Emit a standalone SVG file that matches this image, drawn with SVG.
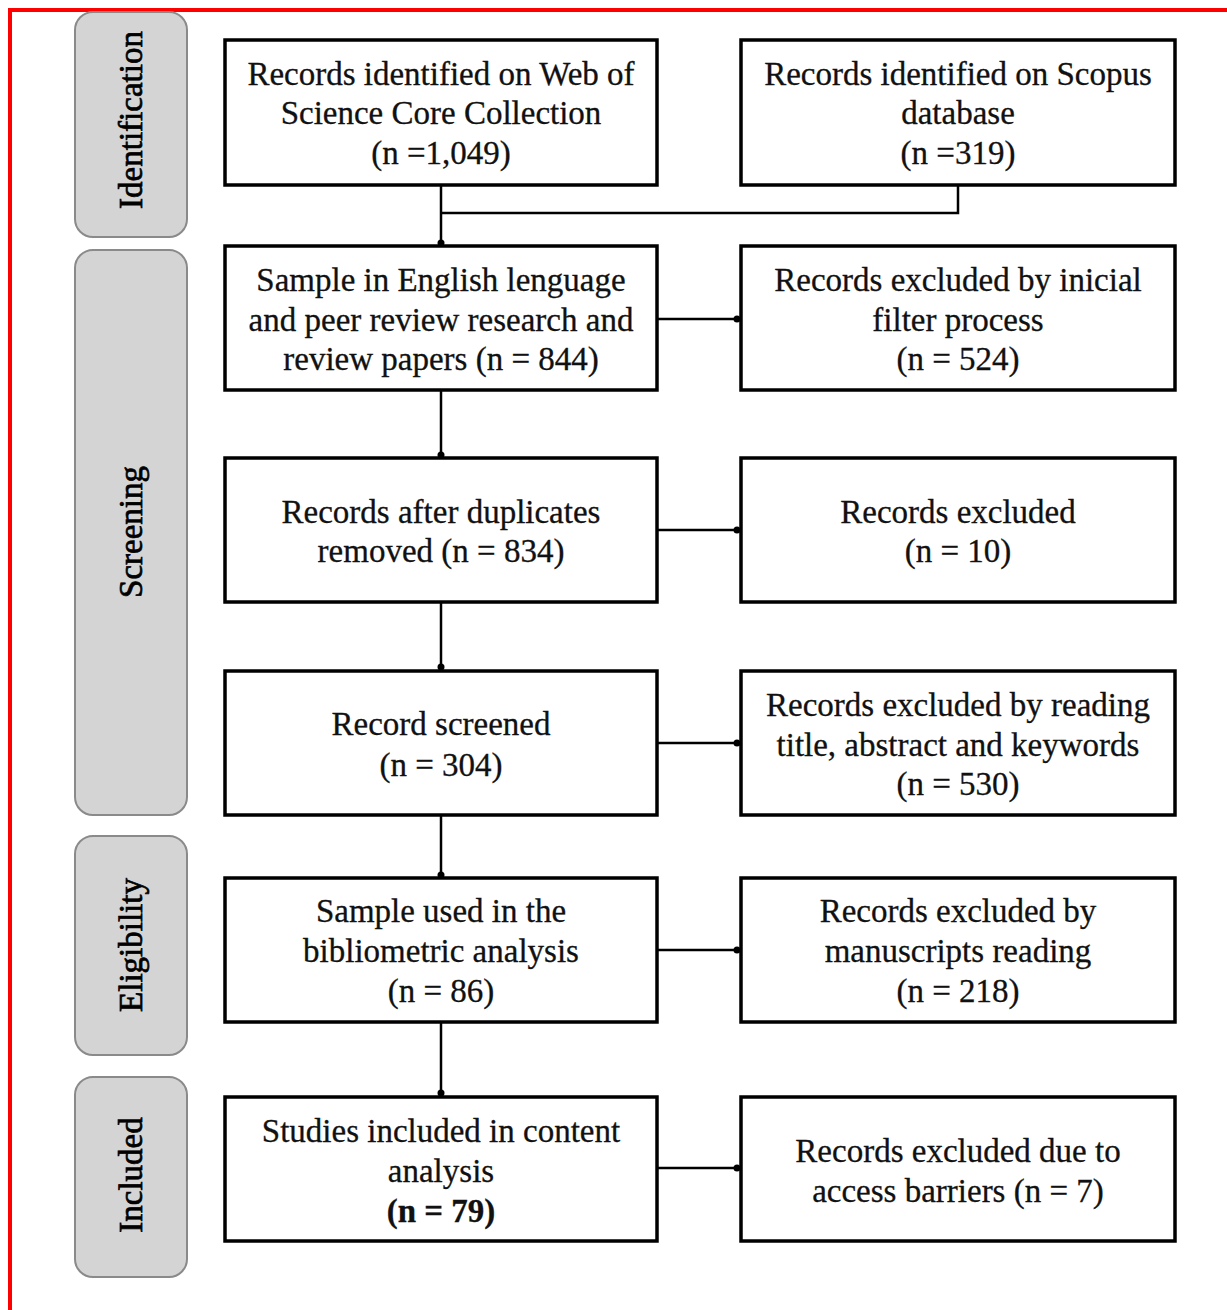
<svg xmlns="http://www.w3.org/2000/svg" width="1227" height="1310" viewBox="0 0 1227 1310">
<style>
.box{fill:#fff;stroke:#000;stroke-width:3.5}
.side{fill:#d4d4d4;stroke:#8a8a8a;stroke-width:2}
.t{font-family:"Liberation Serif","Times New Roman",serif;font-size:33px;fill:#111;stroke:#111;stroke-width:0.3;text-anchor:middle}
.st{font-family:"Liberation Serif","Times New Roman",serif;font-size:33px;fill:#000;stroke:#000;stroke-width:0.7;text-anchor:middle}
.c{fill:none;stroke:#000;stroke-width:2.5}
</style>
<defs>
<marker id="dot" markerWidth="10" markerHeight="10" refX="5" refY="5" markerUnits="userSpaceOnUse">
<circle cx="5" cy="5" r="3.5" fill="#000"/>
</marker>
</defs>
<rect width="1227" height="1310" fill="#fff"/>
<g id="frame">
<line x1="10" y1="10" x2="1227" y2="10" stroke="#f00" stroke-width="4"/>
<line x1="10" y1="8" x2="10" y2="1310" stroke="#f00" stroke-width="4"/>
</g>
<g id="stage-identification">
<rect class="side" x="75" y="12" width="112" height="225" rx="18"/>
<text class="st" transform="translate(142,120) rotate(-90)">Identification</text>
</g>
<g id="stage-screening">
<rect class="side" x="75" y="250" width="112" height="565" rx="18"/>
<text class="st" transform="translate(142,532) rotate(-90)">Screening</text>
</g>
<g id="stage-eligibility">
<rect class="side" x="75" y="836" width="112" height="219" rx="18"/>
<text class="st" transform="translate(142,945) rotate(-90)">Eligibility</text>
</g>
<g id="stage-included">
<rect class="side" x="75" y="1077" width="112" height="200" rx="18"/>
<text class="st" transform="translate(142,1175) rotate(-90)">Included</text>
</g>
<g id="connectors">
<line class="c" x1="441" y1="185" x2="441" y2="243" marker-end="url(#dot)"/>
<polyline class="c" points="958,185 958,213 441,213"/>
<line class="c" x1="657" y1="319" x2="737" y2="319" marker-end="url(#dot)"/>
<line class="c" x1="441" y1="390" x2="441" y2="455" marker-end="url(#dot)"/>
<line class="c" x1="657" y1="530" x2="737" y2="530" marker-end="url(#dot)"/>
<line class="c" x1="441" y1="602" x2="441" y2="667" marker-end="url(#dot)"/>
<line class="c" x1="657" y1="743" x2="737" y2="743" marker-end="url(#dot)"/>
<line class="c" x1="441" y1="815" x2="441" y2="875" marker-end="url(#dot)"/>
<line class="c" x1="657" y1="950" x2="737" y2="950" marker-end="url(#dot)"/>
<line class="c" x1="441" y1="1022" x2="441" y2="1093" marker-end="url(#dot)"/>
<line class="c" x1="657" y1="1168" x2="737" y2="1168" marker-end="url(#dot)"/>
</g>
<g id="wos">
<rect class="box" x="225" y="40" width="432" height="145"/>
<text class="t" x="441" y="85">Records identified on Web of</text>
<text class="t" x="441" y="124">Science Core Collection</text>
<text class="t" x="441" y="164">(n =1,049)</text>
</g>
<g id="scopus">
<rect class="box" x="741" y="40" width="434" height="145"/>
<text class="t" x="958" y="85">Records identified on Scopus</text>
<text class="t" x="958" y="124">database</text>
<text class="t" x="958" y="164">(n =319)</text>
</g>
<g id="sample-english">
<rect class="box" x="225" y="246" width="432" height="144"/>
<text class="t" x="441" y="291">Sample in English lenguage</text>
<text class="t" x="441" y="331">and peer review research and</text>
<text class="t" x="441" y="370">review papers (n = 844)</text>
</g>
<g id="excluded-filter">
<rect class="box" x="741" y="246" width="434" height="144"/>
<text class="t" x="958" y="291">Records excluded by inicial</text>
<text class="t" x="958" y="331">filter process</text>
<text class="t" x="958" y="370">(n = 524)</text>
</g>
<g id="after-duplicates">
<rect class="box" x="225" y="458" width="432" height="144"/>
<text class="t" x="441" y="523">Records after duplicates</text>
<text class="t" x="441" y="562">removed (n = 834)</text>
</g>
<g id="excluded-duplicates">
<rect class="box" x="741" y="458" width="434" height="144"/>
<text class="t" x="958" y="523">Records excluded</text>
<text class="t" x="958" y="562">(n = 10)</text>
</g>
<g id="screened">
<rect class="box" x="225" y="671" width="432" height="144"/>
<text class="t" x="441" y="735">Record screened</text>
<text class="t" x="441" y="776">(n = 304)</text>
</g>
<g id="excluded-title">
<rect class="box" x="741" y="671" width="434" height="144"/>
<text class="t" x="958" y="716">Records excluded by reading</text>
<text class="t" x="958" y="756">title, abstract and keywords</text>
<text class="t" x="958" y="795">(n = 530)</text>
</g>
<g id="bibliometric">
<rect class="box" x="225" y="878" width="432" height="144"/>
<text class="t" x="441" y="922">Sample used in the</text>
<text class="t" x="441" y="962">bibliometric analysis</text>
<text class="t" x="441" y="1002">(n = 86)</text>
</g>
<g id="excluded-manuscripts">
<rect class="box" x="741" y="878" width="434" height="144"/>
<text class="t" x="958" y="922">Records excluded by</text>
<text class="t" x="958" y="962">manuscripts reading</text>
<text class="t" x="958" y="1002">(n = 218)</text>
</g>
<g id="included-content">
<rect class="box" x="225" y="1097" width="432" height="144"/>
<text class="t" x="441" y="1142">Studies included in content</text>
<text class="t" x="441" y="1182">analysis</text>
<text class="t" x="441" y="1222" font-weight="bold">(n = 79)</text>
</g>
<g id="excluded-access">
<rect class="box" x="741" y="1097" width="434" height="144"/>
<text class="t" x="958" y="1162">Records excluded due to</text>
<text class="t" x="958" y="1202">access barriers (n = 7)</text>
</g>
</svg>
